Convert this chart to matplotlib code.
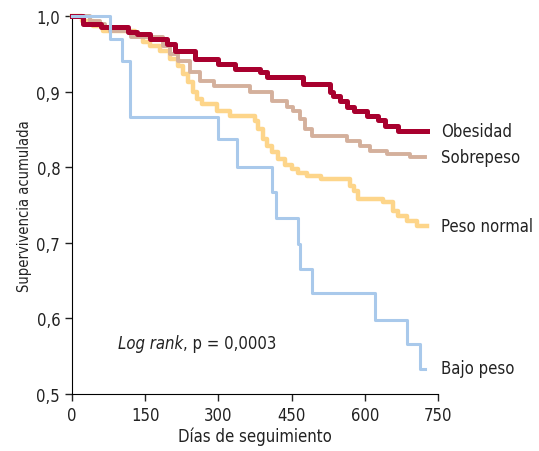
import matplotlib.pyplot as plt

plt.rcParams['font.family'] = ['DejaVu Sans']
plt.rcParams['font.stretch'] = 'condensed'

# Kaplan-Meier curves (days, cumulative survival)
obes_t = [0, 23, 60, 115, 133, 160, 195, 211, 252, 300, 334, 385, 399, 473, 529, 535, 549, 563, 577, 604, 627, 641, 668, 727]
obes_s = [1.0, 0.990, 0.986, 0.979, 0.976, 0.970, 0.963, 0.954, 0.943, 0.937, 0.930, 0.926, 0.919, 0.910, 0.900, 0.894, 0.887, 0.880, 0.874, 0.868, 0.862, 0.854, 0.848, 0.848]

sobre_t = [0, 37, 57, 68, 78, 120, 187, 201, 217, 242, 262, 290, 365, 410, 440, 453, 467, 477, 492, 563, 590, 611, 645, 693, 723]
sobre_s = [1.0, 0.993, 0.990, 0.984, 0.980, 0.972, 0.960, 0.950, 0.940, 0.926, 0.914, 0.907, 0.900, 0.887, 0.880, 0.874, 0.864, 0.850, 0.841, 0.835, 0.828, 0.821, 0.817, 0.813, 0.813]

normal_t = [0, 20, 43, 63, 129, 146, 160, 180, 201, 217, 227, 238, 248, 256, 266, 297, 324, 375, 381, 391, 399, 410, 422, 437, 451, 464, 481, 510, 570, 578, 586, 637, 658, 668, 686, 707, 727]
normal_s = [1.0, 0.993, 0.987, 0.980, 0.974, 0.966, 0.960, 0.954, 0.943, 0.934, 0.923, 0.913, 0.900, 0.890, 0.884, 0.874, 0.868, 0.861, 0.850, 0.837, 0.828, 0.820, 0.811, 0.803, 0.797, 0.792, 0.788, 0.785, 0.775, 0.768, 0.758, 0.754, 0.742, 0.735, 0.729, 0.722, 0.722]

bajo_t = [0, 78, 102, 119, 299, 338, 410, 418, 463, 467, 492, 621, 686, 713, 723]
bajo_s = [1.0, 0.970, 0.940, 0.866, 0.837, 0.800, 0.767, 0.733, 0.698, 0.665, 0.634, 0.598, 0.566, 0.533, 0.533]

labels = ['Obesidad', 'Sobrepeso', 'Peso normal', 'Bajo peso']
label_y = [0.848, 0.814, 0.722, 0.534]

fig = plt.figure(figsize=(5.39, 4.52), dpi=100)
ax = fig.add_axes([0.1336, 0.1261, 0.679, 0.8363])

ax.step(normal_t, normal_s, where='post', color='#fdd58a', lw=3.2, clip_on=False, zorder=3)
ax.step(sobre_t, sobre_s, where='post', color='#d4b09c', lw=2.8, clip_on=False, zorder=4)
ax.step(obes_t, obes_s, where='post', color='#a8002e', lw=3.6, clip_on=False, zorder=5)
ax.step(bajo_t, bajo_s, where='post', color='#a9c9eb', lw=2.2, clip_on=False, zorder=6)

for lab, y in zip(labels, label_y):
    ax.text(757, y, lab, fontsize=12, va='center', ha='left', color='#222222', clip_on=False)

t1 = ax.text(94, 0.561, 'Log rank', fontsize=12, style='italic', va='baseline', color='#222222')
ax.annotate(', p = 0,0003', xy=(1, 0), xycoords=t1, va='bottom', fontsize=12, color='#222222')

ax.set_xlim(0, 750)
ax.set_ylim(0.5, 1.0)
ax.set_xticks([0, 150, 300, 450, 600, 750])
ax.set_yticks([0.5, 0.6, 0.7, 0.8, 0.9, 1.0])
ax.set_yticklabels(['0,5', '0,6', '0,7', '0,8', '0,9', '1,0'])
ax.tick_params(labelsize=12, colors='#222222', length=5, width=1)
ax.spines['top'].set_visible(False)
ax.spines['right'].set_visible(False)
ax.set_xlabel('Días de seguimiento', fontsize=12, color='#222222', labelpad=2)
ax.set_ylabel('Supervivencia acumulada', fontsize=10.5, color='#222222', labelpad=3)

fig.savefig('out.png', dpi=100)
